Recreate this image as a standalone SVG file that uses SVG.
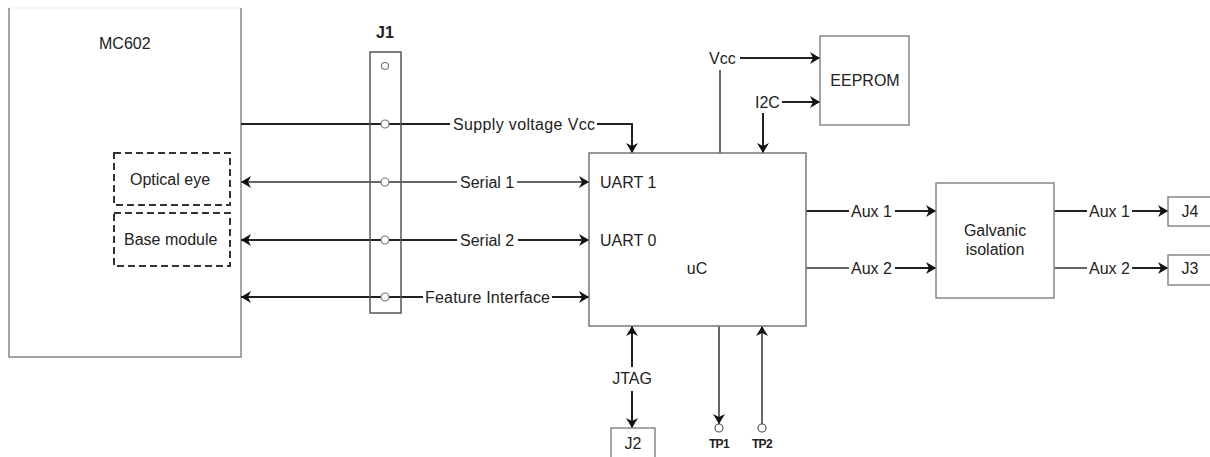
<svg xmlns="http://www.w3.org/2000/svg" width="1210" height="457" viewBox="0 0 1210 457">
<defs>
<marker id="ah" viewBox="0 0 10 12" refX="10" refY="6" markerWidth="10" markerHeight="12" markerUnits="userSpaceOnUse" orient="auto-start-reverse">
<path d="M0,0 L10,6 L0,12 L3,6 z" fill="#111"/>
</marker>
<style>
text{font-family:"Liberation Sans",Arial,sans-serif;font-size:16px;fill:#222}
.box{fill:#fff;stroke:#888;stroke-width:1.5}
.dash{fill:none;stroke:#333;stroke-width:2;stroke-dasharray:7,4}
.ln{fill:none;stroke:#222;stroke-width:2}
.lg{fill:none;stroke:#666;stroke-width:2}
.pin{fill:#fff;stroke:#777;stroke-width:1.2}
.tp{fill:#fff;stroke:#555;stroke-width:1.2}
.b{font-weight:bold}
.m{text-anchor:middle}
</style>
</defs>
<rect width="1210" height="457" fill="#fff"/>

<g id="mc602">
<line x1="9" y1="8" x2="241" y2="8" stroke="#eee" stroke-width="1"/>
<path d="M9,8 V357 H241 V8" fill="none" stroke="#888" stroke-width="1.5"/>
<text x="99" y="49">MC602</text>
</g>
<g id="optical-eye">
<rect class="dash" x="114" y="153" width="116" height="52"/>
<text x="130" y="185">Optical eye</text>
</g>
<g id="base-module">
<rect class="dash" x="114" y="213" width="116" height="53"/>
<text x="124" y="245">Base module</text>
</g>

<g id="connectors">
<path class="ln" d="M241,124 H450"/>
<path class="ln" d="M597,124 H632 V153" marker-end="url(#ah)"/>
<path class="lg" d="M241,182 H457" marker-start="url(#ah)"/>
<path class="lg" d="M517,182 H589" marker-end="url(#ah)"/>
<path class="ln" d="M241,240 H457" marker-start="url(#ah)"/>
<path class="ln" d="M518,240 H589" marker-end="url(#ah)"/>
<path class="ln" d="M241,297 H423" marker-start="url(#ah)"/>
<path class="ln" d="M552,297 H589" marker-end="url(#ah)"/>
<path class="lg" d="M720,70 V153"/>
<path class="ln" d="M740,58 H820" marker-end="url(#ah)"/>
<path class="ln" d="M782,102 H820" marker-end="url(#ah)"/>
<path class="ln" d="M763,113 V153" marker-end="url(#ah)"/>
<path class="ln" d="M806,211 H849"/>
<path class="ln" d="M895,211 H936" marker-end="url(#ah)"/>
<path class="lg" d="M806,268 H849"/>
<path class="ln" d="M895,268 H936" marker-end="url(#ah)"/>
<path class="ln" d="M1054,211 H1087"/>
<path class="ln" d="M1132,211 H1168" marker-end="url(#ah)"/>
<path class="lg" d="M1054,268 H1087"/>
<path class="ln" d="M1132,268 H1168" marker-end="url(#ah)"/>
<path class="ln" d="M632,367 V326" marker-end="url(#ah)"/>
<path class="ln" d="M632,391 V428" marker-end="url(#ah)"/>
<path class="lg" d="M719,326 V424" marker-end="url(#ah)"/>
<path class="lg" d="M762,424 V326" marker-end="url(#ah)"/>
<text x="453" y="130" textLength="142">Supply voltage Vcc</text>
<text x="460" y="188">Serial 1</text>
<text x="460" y="246">Serial 2</text>
<text x="425" y="303" textLength="125">Feature Interface</text>
<text x="709" y="64">Vcc</text>
<text x="755" y="108">I2C</text>
<text x="851" y="217">Aux 1</text>
<text x="851" y="274">Aux 2</text>
<text x="1089" y="217">Aux 1</text>
<text x="1089" y="274">Aux 2</text>
<text class="m" x="632" y="384">JTAG</text>
</g>

<g id="j1">
<rect x="370" y="52" width="31" height="261" fill="none" stroke="#555" stroke-width="1.5"/>
<circle class="pin" cx="385" cy="66" r="3.5"/>
<circle class="pin" cx="385" cy="124" r="4"/>
<circle class="pin" cx="385" cy="182" r="4"/>
<circle class="pin" cx="385" cy="240" r="4"/>
<circle class="pin" cx="385" cy="297" r="4"/>
<text class="b m" x="385" y="38" style="font-size:16px">J1</text>
</g>

<g id="uc">
<rect class="box" x="589" y="153" width="217" height="173" style="stroke:#777"/>
<text x="600" y="188">UART 1</text>
<text x="600" y="246">UART 0</text>
<text class="m" x="697" y="274">uC</text>
</g>

<g id="eeprom">
<rect class="box" x="820" y="36" width="89" height="89"/>
<text class="m" x="865" y="86">EEPROM</text>
</g>

<g id="galvanic">
<rect class="box" x="936" y="183" width="118" height="115"/>
<text class="m" x="995" y="236">Galvanic</text>
<text class="m" x="995" y="255">isolation</text>
</g>

<g id="j4">
<rect class="box" x="1168" y="197" width="50" height="29"/>
<text class="m" x="1190" y="217">J4</text>
</g>
<g id="j3">
<rect class="box" x="1168" y="255" width="50" height="30"/>
<text class="m" x="1190" y="274">J3</text>
</g>
<g id="j2">
<rect class="box" x="611" y="428" width="44" height="40"/>
<text class="m" x="633" y="449">J2</text>
</g>
<g id="tp1">
<circle class="tp" cx="719" cy="428" r="4"/>
<text class="b m" x="719" y="448" style="font-size:12px;letter-spacing:-0.6px">TP1</text>
</g>
<g id="tp2">
<circle class="tp" cx="762" cy="428" r="4"/>
<text class="b m" x="762" y="448" style="font-size:12px;letter-spacing:-0.6px">TP2</text>
</g>
</svg>
